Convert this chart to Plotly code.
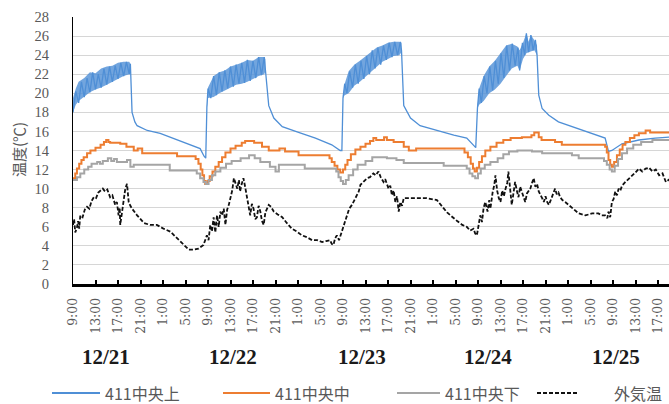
import plotly.graph_objects as go

# Hours counted from 12/21 0:00
upper_hours = [
    9.0, 9.5, 10.0, 10.5, 11.0, 11.5, 12.0, 12.5, 13.0, 13.5, 14.0, 14.5, 15.0, 15.5, 16.0, 16.5,
    17.0, 17.5, 18.0, 18.5, 19.0, 19.2, 19.5, 20.0, 20.4, 22.2, 24.5, 26.3, 29.3, 31.6, 32.3, 32.6,
    32.8, 33.0, 33.5, 34.0, 34.5, 35.0, 35.5, 36.0, 36.5, 37.0, 37.5, 38.0, 38.5, 39.0, 39.5, 40.0,
    40.5, 41.0, 41.5, 42.0, 42.5, 43.0, 43.2, 43.8, 44.7, 46.2, 49.1, 52.1, 55.0, 56.5, 56.8,
    57.0, 57.3, 57.7, 58.2, 58.7, 59.2, 59.7, 60.2, 60.7, 61.2, 61.7, 62.2, 62.7, 63.2, 63.7, 64.2,
    64.7, 65.2, 65.7, 66.2, 66.7, 67.2, 67.4, 67.8, 69.0, 70.7, 73.7, 76.7, 79.0, 80.2, 80.6,
    80.9, 81.2, 81.6, 82.1, 82.6, 83.1, 83.6, 84.1, 84.6, 85.1, 85.6, 86.1, 86.6, 87.1, 87.6, 88.1,
    88.4, 88.9, 89.3, 89.6, 90.0, 90.4, 90.8, 91.2, 91.5, 91.8, 92.4, 93.6, 95.3, 97.7, 100.7,
    103.6, 104.2, 104.8, 106.6, 109.6, 112.5, 115.1,
]
upper_temp = [
    18.0, 20.2, 19.0, 21.2, 19.6, 21.6, 20.1, 22.2, 20.4, 22.0, 20.6, 22.6, 20.9, 22.8, 21.2, 22.9,
    21.5, 23.2, 21.8, 23.3, 22.0, 23.1, 18.0, 17.0, 16.6, 16.1, 15.8, 15.4, 14.7, 14.2, 13.4, 13.2,
    18.5, 20.5, 19.5, 21.8, 19.8, 22.2, 20.2, 22.4, 20.5, 22.8, 20.7, 23.0, 21.0, 23.2, 21.1, 23.5,
    21.3, 23.4, 21.6, 23.8, 21.9, 23.8, 22.5, 18.7, 17.4, 16.5, 15.9, 15.3, 14.6, 14.0, 14.0,
    19.5, 21.0, 20.0, 22.3, 20.6, 23.0, 21.0, 23.4, 21.5, 23.9, 22.0, 24.5, 22.6, 24.8, 23.0, 25.0,
    23.5, 25.3, 23.8, 25.4, 24.0, 25.4, 24.5, 18.7, 17.4, 16.6, 16.1, 15.6, 15.3, 14.6, 14.3,
    18.4, 20.5, 19.0, 21.8, 20.0, 22.8, 20.3, 23.4, 21.0, 24.2, 21.6, 25.0, 22.4, 25.2, 22.9, 24.8,
    22.4, 25.3, 24.0, 26.3, 24.3, 26.1, 24.5, 25.6, 24.0, 19.8, 18.4, 17.7, 17.0, 16.5, 15.9,
    15.3, 13.9, 14.0, 14.7, 15.1, 15.3, 15.4,
]

# Spread of the upper sensor's rapid fluctuation while heating (low / high envelope per day)
band_hours = [
    [9.0, 9.5, 10.0, 11.0, 12.0, 13.0, 14.0, 15.0, 16.0, 17.0, 18.0, 19.0, 19.2],
    [32.8, 33.0, 34.0, 35.0, 36.0, 37.0, 38.0, 39.0, 40.0, 41.0, 42.0, 43.0, 43.2],
    [57.0, 57.3, 58.0, 59.0, 60.0, 61.0, 62.0, 63.0, 64.0, 65.0, 66.0, 67.0, 67.4],
    [80.9, 81.2, 82.0, 83.0, 84.0, 85.0, 86.0, 87.0, 88.0, 88.4, 89.0, 89.6, 90.0, 90.4, 91.0, 91.5],
]
band_low = [
    [18.0, 18.8, 19.2, 19.7, 20.1, 20.4, 20.6, 20.9, 21.2, 21.5, 21.8, 22.0, 22.0],
    [18.5, 19.5, 19.6, 20.0, 20.3, 20.6, 20.9, 21.0, 21.2, 21.5, 21.8, 22.0, 22.3],
    [19.5, 19.8, 20.0, 20.8, 21.2, 21.7, 22.3, 22.8, 23.3, 23.6, 23.9, 24.0, 24.3],
    [18.4, 18.8, 19.2, 20.0, 20.4, 21.0, 21.8, 22.6, 22.9, 22.4, 23.6, 24.2, 24.3, 24.4, 24.5, 24.0],
]
band_high = [
    [19.5, 20.5, 21.2, 21.6, 22.2, 22.1, 22.6, 22.8, 22.9, 23.2, 23.3, 23.3, 23.1],
    [18.6, 20.6, 21.8, 22.2, 22.4, 22.8, 23.0, 23.2, 23.5, 23.4, 23.8, 23.8, 23.6],
    [19.6, 21.0, 22.3, 23.0, 23.4, 23.9, 24.4, 24.8, 25.0, 25.3, 25.4, 25.4, 25.3],
    [18.5, 20.5, 21.8, 22.8, 23.4, 24.2, 25.0, 25.2, 24.9, 24.5, 25.3, 26.3, 25.4, 26.1, 25.6, 25.0],
]

middle_hours = [
    9.0, 9.4, 9.7, 10.1, 10.5, 10.9, 11.5, 12.1, 13.0, 13.9, 14.5, 14.9, 15.3, 15.6, 17.4, 18.5,
    19.8, 20.5, 21.3, 27.5, 30.8, 31.3, 31.7, 32.0, 32.3, 32.5, 32.9, 33.3, 33.8, 34.3, 34.9, 35.5,
    36.1, 37.0, 37.9, 39.0, 39.6, 41.2, 42.6, 43.8, 45.7, 46.7, 49.1, 54.6, 55.0, 55.5, 56.0, 56.5,
    57.0, 57.4, 57.8, 58.4, 59.2, 60.1, 61.0, 61.8, 62.4, 62.9, 63.6, 64.3, 64.8, 66.0, 67.8, 68.7,
    70.0, 78.6, 79.2, 79.7, 80.1, 80.4, 80.8, 81.2, 81.7, 82.3, 83.2, 84.3, 85.5, 86.8, 88.8, 90.5,
    91.0, 91.8, 92.3, 94.7, 95.9, 103.6, 103.9, 104.2, 104.5, 104.8, 105.2, 105.7, 106.2, 106.7,
    107.2, 108.0, 108.8, 109.6, 110.8, 111.6, 115.1,
]
middle_temp = [
    11.1, 11.6, 12.1, 12.6, 13.0, 13.3, 13.7, 14.0, 14.3, 14.6, 14.9, 15.1, 14.9, 14.8, 14.7, 14.4,
    14.0, 14.2, 13.7, 13.4, 13.1, 12.6, 12.0, 11.4, 10.8, 10.5, 10.8, 11.3, 11.8, 12.3, 12.8, 13.3,
    13.8, 14.2, 14.5, 14.8, 15.0, 14.8, 14.4, 14.0, 14.2, 13.9, 13.5, 13.2, 12.8, 12.4, 12.0, 11.7,
    12.0, 12.5, 13.0, 13.6, 14.1, 14.4, 14.7, 15.0, 15.3, 15.1, 15.1, 15.4, 15.1, 14.9, 14.4, 14.0,
    14.2, 13.8, 13.3, 12.6, 12.1, 11.8, 12.2, 12.8, 13.4, 14.0, 14.4, 14.8, 15.1, 15.3, 15.4, 15.6,
    15.9, 15.4, 15.1, 14.9, 14.6, 14.4, 13.8, 13.0, 12.5, 12.3, 12.8, 13.5, 14.1, 14.6,
    14.9, 15.3, 15.6, 15.8, 16.1, 15.9, 15.9,
]

lower_hours = [
    9.0, 9.7, 10.3, 11.0, 11.7, 12.3, 13.3, 13.8, 14.3, 15.2, 15.8, 16.3, 16.8, 18.6, 19.2, 19.8,
    26.2, 31.0, 31.6, 32.2, 32.6, 33.1, 33.7, 34.3, 35.2, 36.2, 37.2, 38.8, 40.3, 41.3, 42.3, 44.0,
    45.0, 45.6, 50.2, 55.8, 56.2, 56.6, 57.0, 57.5, 58.0, 58.8, 59.6, 61.0, 62.2, 64.8, 66.5, 67.8,
    74.9, 79.0, 79.5, 80.0, 80.5, 81.0, 81.5, 82.2, 83.2, 84.5, 85.5, 86.5, 88.0, 90.6, 92.4, 97.7,
    98.9, 103.4, 103.9, 104.4, 104.8, 105.3, 105.9, 106.6, 107.5, 108.6, 110.0, 112.0, 115.1,
]
lower_temp = [
    10.9, 11.2, 11.6, 12.0, 12.3, 12.6, 12.8, 12.6, 12.9, 13.2, 12.9, 13.1, 12.8, 13.0, 12.3, 12.5,
    11.9, 11.6, 11.1, 10.7, 10.5, 10.9, 11.4, 11.8, 12.2, 12.6, 12.9, 13.2, 13.5, 13.2, 12.8, 12.3,
    11.8, 12.5, 12.1, 11.8, 11.2, 10.8, 10.5, 10.9, 11.4, 12.0, 12.5, 12.9, 13.3, 13.2, 13.0, 12.7,
    12.4, 12.1, 11.6, 11.3, 11.1, 11.6, 12.1, 12.5, 12.8, 13.2, 13.6, 13.9, 14.0, 13.9, 13.7, 13.5,
    13.2, 12.9, 12.5, 12.0, 11.8, 12.4, 13.1, 13.7, 14.2, 14.6, 14.9, 15.1, 15.2,
]

outdoor_hours = [
    9.0, 9.2, 9.4, 9.7, 9.9, 10.1, 10.3, 10.7, 11.1, 11.5, 11.9, 12.3, 12.7, 13.1, 13.5, 13.9,
    14.3, 14.7, 15.1, 15.6, 16.0, 16.5, 16.8, 17.1, 17.3, 17.4, 17.6, 17.8, 18.0, 18.3, 18.6, 18.8,
    18.9, 19.2, 19.5, 20.4, 21.6, 22.7, 23.9, 25.1, 26.3, 27.5, 28.7, 29.6, 30.4, 31.3, 32.2, 32.8,
    33.1, 33.4, 33.7, 34.0, 34.3, 34.6, 34.9, 35.2, 35.5, 35.8, 36.1, 36.4, 36.7, 37.0, 37.3, 37.6,
    37.9, 38.2, 38.5, 38.7, 39.0, 39.3, 39.6, 39.9, 40.2, 40.5, 40.8, 41.1, 41.4, 41.7, 42.0, 42.3,
    42.6, 42.9, 43.2, 43.5, 43.8, 44.2, 44.7, 45.4, 46.2, 47.0, 47.9, 48.8, 49.7, 50.6, 51.5, 52.4,
    53.3, 54.0, 54.7, 55.0, 55.3, 55.6, 55.9, 56.3, 56.8, 57.2, 57.7, 58.1, 58.6, 59.2, 59.8, 60.1,
    60.6, 61.0, 61.3, 61.8, 62.4, 62.8, 63.3, 63.7, 64.2, 64.5, 65.1, 65.4, 65.7, 66.0, 66.3, 66.6,
    66.9, 67.2, 67.5, 67.8, 69.6, 71.9, 73.7, 75.5, 77.3, 78.2, 79.0, 79.6, 80.2, 80.5, 80.8, 81.1,
    81.4, 81.7, 82.0, 82.3, 82.7, 83.0, 83.2, 83.6, 83.9, 84.1, 84.4, 84.7, 85.0, 85.3, 85.6, 85.9,
    86.2, 86.4, 86.7, 87.0, 87.3, 87.6, 87.9, 88.2, 88.5, 88.8, 89.1, 89.4, 89.7, 90.0, 90.3, 90.6,
    90.9, 91.2, 91.5, 91.8, 92.1, 92.4, 92.7, 93.0, 93.3, 93.6, 94.0, 94.4, 94.7, 95.0, 95.3, 95.6,
    96.0, 96.5, 97.1, 97.7, 98.3, 98.9, 99.5, 100.1, 101.3, 102.4, 103.0, 103.6, 104.0, 104.2, 104.5,
    104.8, 105.1, 105.4, 105.7, 106.0, 106.3, 106.6, 107.2, 107.8, 108.4, 109.0, 109.6, 110.2, 110.8,
    111.4, 112.0, 112.6, 113.2, 113.8, 114.4, 115.1,
]
outdoor_temp = [
    6.2, 6.8, 5.4, 5.9, 6.6, 5.8, 7.2, 7.0, 7.8, 8.1, 7.9, 8.7, 9.1, 9.0, 9.6, 9.8,
    10.0, 9.7, 9.9, 9.1, 9.3, 8.3, 8.6, 7.2, 8.0, 6.2, 7.0, 8.0, 8.4, 10.0, 10.5, 9.2,
    8.6, 8.2, 7.9, 7.2, 6.4, 6.2, 6.2, 5.8, 5.5, 4.8, 4.1, 3.6, 3.6, 3.7, 4.1, 5.1,
    4.6, 6.2, 5.5, 7.0, 5.4, 7.2, 6.0, 7.6, 7.2, 7.9, 6.2, 7.8, 8.3, 9.0, 9.8, 11.1,
    10.4, 10.0, 10.9, 9.7, 10.5, 11.1, 10.2, 9.3, 8.0, 7.2, 8.4, 7.9, 6.8, 7.0, 8.2, 7.6,
    6.6, 6.2, 7.5, 8.0, 8.3, 8.1, 7.6, 7.3, 7.0, 6.4, 5.8, 5.5, 5.1, 4.9, 4.6, 4.6,
    4.4, 4.5, 4.6, 4.2, 4.1, 4.8, 5.1, 4.6, 5.5, 6.3, 7.2, 7.9, 8.3, 9.0, 9.7, 10.4,
    10.7, 10.9, 11.1, 11.2, 11.6, 11.4, 11.8, 11.2, 10.7, 11.0, 10.0, 10.3, 9.3, 9.8, 8.6, 9.2,
    7.6, 8.6, 8.2, 9.0, 9.0, 9.0, 8.8, 7.5, 6.6, 6.2, 6.0, 5.6, 5.8, 5.3, 5.1, 6.0,
    7.2, 6.5, 8.0, 8.6, 7.6, 8.8, 7.9, 9.6, 10.4, 11.4, 9.8, 9.0, 8.6, 9.8, 9.2, 10.0,
    10.6, 11.8, 9.6, 8.3, 9.5, 10.7, 9.8, 9.1, 10.2, 9.7, 9.2, 8.6, 9.5, 9.8, 10.0, 10.6,
    11.1, 10.2, 10.5, 9.7, 9.4, 9.0, 8.6, 9.2, 8.6, 8.3, 8.9, 9.6, 10.0, 9.4, 9.6, 9.1,
    8.8, 8.6, 8.3, 8.0, 7.6, 7.4, 7.3, 7.2, 7.4, 7.4, 7.2, 7.2, 6.9, 7.6, 7.0,
    8.6, 8.9, 9.7, 9.3, 10.0, 9.8, 10.3, 10.7, 11.0, 11.4, 11.7, 12.1, 11.8, 12.1,
    12.2, 11.8, 12.0, 11.4, 11.6, 10.7, 11.0,
]

series_names = ["411中央上", "411中央中", "411中央下", "外気温"]
day_labels = ["12/21", "12/22", "12/23", "12/24", "12/25"]
tick_hours = list(range(9, 116, 4))
tick_text = [f"{h % 24}:00" for h in tick_hours]

# Layout constants (pixels)
W, H = 669, 404
L, R, T, B = 73, 0, 17, 120
PW, PH = W - L - R, H - T - B
X_RANGE = [9, 9 + PW / 5.625]
day_label_hours = [14.9, 37.4, 60.3, 82.8, 105.5]

BLUE, ORANGE, GRAY, BLACK = "#4f8fd6", "#ed7d31", "#a5a5a5", "#111111"
BAND_FILL = "rgba(79,143,214,0.8)"
TEXT_GRAY = "#595959"

fig = go.Figure()
for hrs, lo, hi in zip(band_hours, band_low, band_high):
    fig.add_trace(go.Scatter(x=hrs, y=lo, mode="lines", line=dict(width=0, color=BLUE),
                             hoverinfo="skip", showlegend=False))
    fig.add_trace(go.Scatter(x=hrs, y=hi, mode="lines", line=dict(width=0, color=BLUE),
                             fill="tonexty", fillcolor=BAND_FILL, hoverinfo="skip",
                             showlegend=False))
fig.add_trace(go.Scatter(x=upper_hours, y=upper_temp, mode="lines", name=series_names[0],
                         line=dict(color=BLUE, width=1.3)))
fig.add_trace(go.Scatter(x=middle_hours, y=middle_temp, mode="lines", name=series_names[1],
                         line=dict(color=ORANGE, width=2, shape="hv")))
fig.add_trace(go.Scatter(x=lower_hours, y=lower_temp, mode="lines", name=series_names[2],
                         line=dict(color=GRAY, width=2, shape="hv")))
fig.add_trace(go.Scatter(x=outdoor_hours, y=outdoor_temp, mode="lines", name=series_names[3],
                         line=dict(color=BLACK, width=1.8, dash="4px,2px")))


def px_x(p):
    return (p - L) / PW


def px_y(p):
    return (H - B - p) / PH


annotations = []
for lab, hr in zip(day_labels, day_label_hours):
    annotations.append(dict(x=hr, xref="x", y=px_y(357), yref="paper", text=lab, showarrow=False,
                            font=dict(family="Liberation Serif", size=21, color="#1a1a1a",
                                      weight="bold"),
                            xanchor="center", yanchor="middle"))

annotations.append(dict(x=px_x(18), y=px_y(150), xref="paper", yref="paper", text="温度(℃)",
                        textangle=-90, showarrow=False, xanchor="center", yanchor="middle",
                        font=dict(family="Noto Sans CJK JP", size=15, color=TEXT_GRAY)))

# Legend drawn along the bottom
LEGEND_Y = 393
legend_items = [
    (series_names[0], BLUE, "solid", 52, 100, 103),
    (series_names[1], ORANGE, "solid", 223, 270, 273),
    (series_names[2], GRAY, "solid", 397, 440, 443),
    (series_names[3], BLACK, "dash", 537, 578, 612),
]
shapes = []
for name, col, dash, x0, x1, tx in legend_items:
    shapes.append(dict(type="line", xref="paper", yref="paper", x0=px_x(x0), x1=px_x(x1),
                       y0=px_y(LEGEND_Y), y1=px_y(LEGEND_Y),
                       line=dict(color=col, width=2 if dash == "solid" else 1.8,
                                 dash="solid" if dash == "solid" else "4px,2px")))
    annotations.append(dict(x=px_x(tx), y=px_y(LEGEND_Y), xref="paper", yref="paper", text=name,
                            showarrow=False, xanchor="left", yanchor="middle",
                            font=dict(family="Noto Sans CJK JP", size=16, color=TEXT_GRAY)))

fig.update_layout(
    width=W, height=H,
    margin=dict(l=L, r=R, t=T, b=B, pad=0),
    paper_bgcolor="white", plot_bgcolor="white",
    showlegend=False,
    annotations=annotations,
    shapes=shapes,
    xaxis=dict(range=X_RANGE, tickmode="array", tickvals=tick_hours, ticktext=tick_text,
               tickangle=-90, showgrid=False, zeroline=False,
               showline=True, linecolor="black", linewidth=2.5,
               ticks="inside", ticklen=4, tickwidth=2, tickcolor="black",
               tickfont=dict(family="DejaVu Serif", size=12.5, color=TEXT_GRAY),
               ticklabelstandoff=6),
    yaxis=dict(range=[0, 28], dtick=2, showgrid=True, gridcolor="#d6d6d6", gridwidth=1,
               zeroline=False, showline=True, linecolor="black", linewidth=1,
               ticks="", tickfont=dict(family="Liberation Serif", size=14.5, color=TEXT_GRAY),
               ticklabelstandoff=20),
)

fig.write_html("out.html")
